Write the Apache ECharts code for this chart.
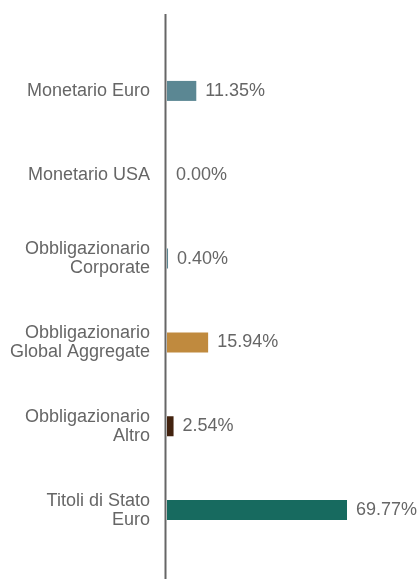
<!DOCTYPE html>
<html>
<head>
<meta charset="utf-8">
<script src="https://cdn.jsdelivr.net/npm/echarts@6/dist/echarts.min.js"></script>
<style>
  html, body { margin: 0; padding: 0; background: #fff; }
  #chart { width: 418px; height: 579px; }
</style>
</head>
<body>
<div id="chart"></div>
<script>
// Asset allocation by class (percent of portfolio)
const categories = [
  'Monetario Euro',
  'Monetario USA',
  'Obbligazionario\nCorporate',
  'Obbligazionario\nGlobal Aggregate',
  'Obbligazionario\nAltro',
  'Titoli di Stato\nEuro'
];
const values = [11.35, 0.00, 0.40, 15.94, 2.54, 69.77];
const colors = ['#5b8793', '#5b8793', '#5b8793', '#c08a3e', '#43230f', '#176a5f'];

const textColor = '#666666';
const fontFamily = 'Liberation Sans, Arial, sans-serif';
const chart = echarts.init(document.getElementById('chart'), null, { renderer: 'canvas' });

chart.setOption({
  animation: false,
  grid: { left: 167, width: 258, top: 49, bottom: 27, containLabel: false, outerBoundsMode: 'none' },
  xAxis: {
    type: 'value', min: 0, max: 100,
    show: false
  },
  yAxis: {
    type: 'category',
    inverse: true,
    data: categories,
    axisLine: { show: false },
    axisTick: { show: false },
    axisLabel: {
      color: textColor,
      fontFamily: fontFamily,
      fontSize: 18,
      lineHeight: 19,
      margin: 17,
      align: 'right'
    }
  },
  series: [{
    type: 'bar',
    barWidth: 20,
    data: values.map((v, i) => ({ value: v, itemStyle: { color: colors[i] } })),
    label: {
      show: true,
      position: 'right',
      distance: 9,
      color: textColor,
      fontFamily: fontFamily,
      fontSize: 18,
      formatter: p => p.value.toFixed(2) + '%'
    }
  }],
  // vertical baseline running the full height of the plot
  graphic: [{
    type: 'line',
    z: 100,
    shape: { x1: 165.5, y1: 14, x2: 165.5, y2: 579 },
    style: { stroke: '#666666', lineWidth: 2 }
  }]
});
</script>
</body>
</html>
